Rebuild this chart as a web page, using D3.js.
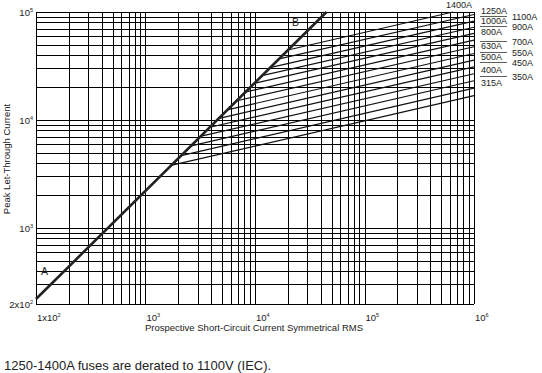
<!DOCTYPE html>
<meta charset="utf-8">
<style>
  body { margin: 0; background: #fff; font-family: "Liberation Sans", Arial, sans-serif; }
  .grid line { stroke: #000; stroke-width: 1; shape-rendering: crispEdges; }
  .lbl { fill: #222; font-size: 9px; }
  .curve { fill: none; stroke: #111; stroke-width: 1.2; }
  .ab { fill: none; stroke: #222; stroke-width: 2.6; }
</style>
<body>
<script src="https://d3js.org/d3.v7.min.js"></script>
<script>
// fuse ratings (A) with where each curve leaves the A-B line and where it ends
var ratings = [315, 350, 400, 450, 500, 550, 630, 700, 800, 900, 1000, 1100, 1250, 1400];
var startRms  = [1670, 2070, 2550, 3150, 3800, 4600, 5550, 6700, 8100, 9800, 11600, 13700, 16600, 20000];
var startPeak = [3780, 4660, 5730, 7060, 8530, 10300, 12400, 15000, 18100, 21800, 25800, 30500, 36800, 44500];
var endRms    = [1e6, 1e6, 1e6, 1e6, 1e6, 1e6, 1e6, 1e6, 1e6, 1e6, 1e6, 1e6, 1e6, 643000];
var endPeak   = [16800, 19700, 23100, 26800, 31000, 35800, 41300, 47700, 55000, 63500, 72300, 82200, 94800, 1e5];

// A-B line (max peak, unlimited)
var abRms  = [100, 45000];
var abPeak = [220, 1e5];

// right-hand labels
var leftLabels  = ["1250A", "1000A", "800A", "630A", "500A", "400A", "315A"];
var rightLabels = ["1100A", "900A", "700A", "550A", "450A", "350A"];

var xTicks = [100, 1e3, 1e4, 1e5, 1e6];
var xTickText = [["1x10", "2"], ["10", "3"], ["10", "4"], ["10", "5"], ["10", "6"]];
var yTicks = [200, 1e3, 1e4, 1e5];
var yTickText = [["2x10", "2"], ["10", "3"], ["10", "4"], ["10", "5"]];

var W = 542, H = 373;
var x = d3.scaleLog().domain([100, 1e6]).range([36, 474]);
var y = d3.scaleLog().domain([200, 1e5]).range([303.5, 12]);

var svg = d3.select("body").append("svg")
    .attr("width", W)
    .attr("height", H);

// grid lines at every 1..9 of each decade
var xGrid = [], yGrid = [];
for (var e = 2; e <= 5; e++)
  for (var k = 1; k <= 9; k++) xGrid.push(k * Math.pow(10, e));
xGrid.push(1e6);
for (var e2 = 2; e2 <= 4; e2++)
  for (var k2 = 1; k2 <= 9; k2++) {
    var v = k2 * Math.pow(10, e2);
    if (v >= 200) yGrid.push(v);
  }
yGrid.push(1e5);

var grid = svg.append("g").attr("class", "grid");
grid.selectAll(".vx").data(xGrid).enter().append("line")
    .attr("x1", function(d) { return Math.round(x(d)) + 0.5; })
    .attr("x2", function(d) { return Math.round(x(d)) + 0.5; })
    .attr("y1", y(1e5)).attr("y2", y(200));
grid.selectAll(".hy").data(yGrid).enter().append("line")
    .attr("y1", function(d) { return Math.round(y(d)) + 0.5; })
    .attr("y2", function(d) { return Math.round(y(d)) + 0.5; })
    .attr("x1", x(100)).attr("x2", x(1e6));

// fuse curves
var line = d3.line()
    .x(function(d) { return x(d[0]); })
    .y(function(d) { return y(d[1]); });

svg.selectAll(".curve").data(ratings).enter().append("path")
    .attr("class", "curve")
    .attr("d", function(d, i) {
      return line([[startRms[i], startPeak[i]], [endRms[i], endPeak[i]]]);
    });

svg.append("path")
    .attr("class", "ab")
    .attr("d", line([[abRms[0], abPeak[0]], [abRms[1], abPeak[1]]]));

svg.append("text").attr("class", "lbl").attr("x", 41).attr("y", 275).style("font-size", "10.5px").text("A");
svg.append("text").attr("class", "lbl").attr("x", 292).attr("y", 26).style("font-size", "10.5px").text("B");

// tick labels with superscripts
function tickLabel(g, parts, xp, yp, anchor) {
  var t = g.append("text").attr("class", "lbl").attr("x", xp).attr("y", yp)
      .attr("text-anchor", anchor).style("font-size", "9.5px");
  t.append("tspan").text(parts[0]);
  t.append("tspan").attr("dy", -4).style("font-size", "5.5px").text(parts[1]);
}
var ax = svg.append("g");
xTicks.forEach(function(d, i) { tickLabel(ax, xTickText[i], x(d) + 1, 321, "start"); });
yTicks.forEach(function(d, i) { tickLabel(ax, yTickText[i], 33, y(d) + 4, "end"); });

svg.append("text").attr("class", "lbl")
    .attr("x", 254).attr("y", 331).attr("text-anchor", "middle")
    .style("font-size", "9.5px")
    .text("Prospective Short-Circuit Current Symmetrical RMS");
svg.append("text").attr("class", "lbl")
    .attr("transform", "translate(10,159) rotate(-90)").attr("text-anchor", "middle")
    .style("font-size", "9.5px")
    .text("Peak Let-Through Current");

// rating labels on the right
var leftY = [14, 24, 35, 49, 60, 73, 86];
var rightY = [20, 30, 45, 56, 66, 80];
svg.selectAll(".rl").data(leftLabels).enter().append("text")
    .attr("class", "lbl").attr("x", 481).attr("y", function(d, i) { return leftY[i]; })
    .text(function(d) { return d; });
svg.selectAll(".rr").data(rightLabels).enter().append("text")
    .attr("class", "lbl").attr("x", 512).attr("y", function(d, i) { return rightY[i]; })
    .text(function(d) { return d; });
// separators between left labels, pointing to the in-between rating
svg.selectAll(".sep").data(rightY).enter().append("line")
    .attr("x1", 480).attr("x2", 507)
    .attr("y1", function(d) { return d - 3.5; }).attr("y2", function(d) { return d - 3.5; })
    .attr("stroke", "#333").attr("stroke-width", 0.8);
svg.append("text").attr("class", "lbl").attr("x", 446).attr("y", 8).text("1400A");

svg.append("text").attr("x", 4).attr("y", 370)
    .style("font-size", "13px").style("fill", "#222")
    .text("1250-1400A fuses are derated to 1100V (IEC).");
</script>
